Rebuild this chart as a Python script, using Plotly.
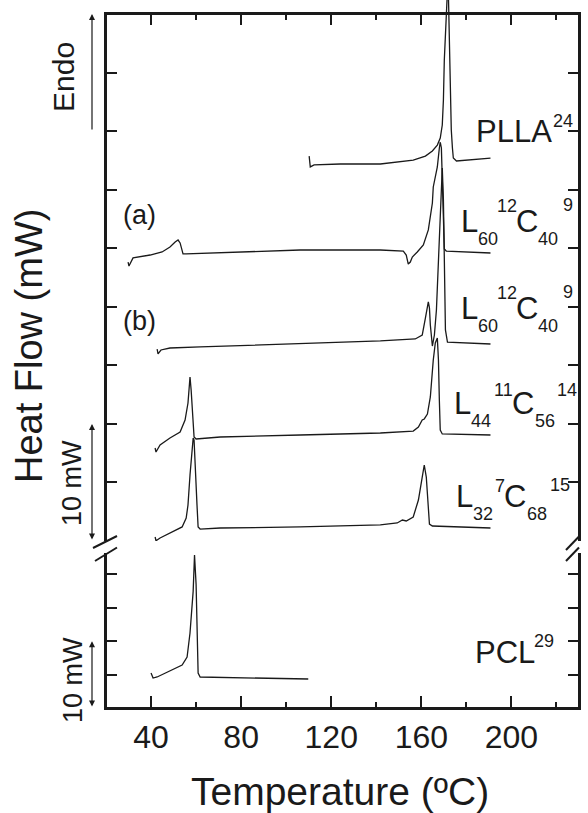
import plotly.graph_objects as go

FONT = "Liberation Sans, Arial, Helvetica, sans-serif"
INK = "#1a1a1a"

# ---- DSC heating scans: temperature (°C) vs. vertically offset heat flow (mW) ----
# upper panel (0-45 mW scale)
PLLA_T = [110.2, 110.7, 112.4, 124.0, 141.8, 156.4, 161.8, 164.9, 167.1, 168.4, 169.3,
          169.8, 170.2, 170.7, 171.1, 171.6, 172.0, 172.4, 172.9, 173.3, 173.8, 174.2,
          175.6, 190.7]
PLLA_HF = [32.87, 31.94, 32.11, 32.19, 32.19, 32.53, 32.87, 33.30, 33.81, 34.41, 35.52,
           37.66, 41.07, 43.63, 45.77, 47.05, 46.88, 42.78, 37.66, 35.10, 33.56, 32.70,
           32.45, 32.70]

A_T = [29.8, 30.2, 32.0, 39.6, 44.9, 48.4, 50.7, 52.0, 52.9, 54.2, 55.6, 84.0, 106.2,
       141.8, 152.0, 153.3, 154.2, 155.1, 156.0, 158.2, 160.9, 163.1, 164.9, 165.3,
       167.1, 168.0, 168.4, 168.9, 169.3, 169.8, 170.2, 171.1, 190.7]
A_HF = [23.82, 23.48, 24.17, 24.42, 24.68, 25.10, 25.53, 25.70, 25.45, 24.51, 24.51,
        24.68, 24.85, 24.85, 24.76, 24.42, 23.65, 23.82, 24.25, 24.68, 25.28, 26.56,
        28.86, 30.23, 31.94, 33.56, 34.07, 33.56, 31.25, 26.56, 24.93, 24.76, 24.59]

B_T = [42.7, 43.1, 44.4, 48.4, 61.8, 106.2, 141.8, 157.3, 160.4, 161.8, 162.7, 163.1,
       163.6, 164.0, 164.9, 165.8, 166.7, 167.6, 168.4, 168.9, 169.3, 169.8, 170.2,
       170.7, 171.6, 190.7]
B_HF = [16.39, 15.97, 16.31, 16.48, 16.57, 16.82, 17.08, 17.25, 17.59, 19.04, 20.15,
        20.41, 19.90, 18.44, 16.65, 17.59, 19.73, 23.99, 29.12, 31.25, 31.85, 29.12,
        23.14, 18.02, 16.99, 16.82]

L44_T = [41.8, 42.2, 44.0, 48.4, 52.9, 55.1, 56.4, 56.9, 57.3, 57.8, 58.7, 59.1, 60.0,
         70.7, 106.2, 141.8, 156.4, 158.7, 160.4, 161.3, 162.7, 164.0, 165.3, 166.2,
         167.1, 167.6, 168.0, 168.4, 169.3, 190.7]
L44_HF = [7.94, 7.60, 8.20, 8.80, 9.31, 10.33, 11.78, 13.15, 14.00, 12.89, 10.33, 8.88,
          8.71, 8.88, 9.05, 9.22, 9.39, 9.73, 10.33, 10.42, 10.84, 12.30, 15.46, 16.91,
          17.33, 15.46, 12.04, 9.48, 9.14, 9.05]

L32_T = [41.8, 42.2, 44.0, 48.4, 53.8, 55.6, 56.4, 57.3, 58.2, 58.7, 59.1, 59.6, 60.4,
         60.9, 61.8, 70.7, 106.2, 141.8, 149.3, 151.6, 153.3, 156.4, 158.7, 160.4, 161.3,
         162.2, 163.1, 163.6, 164.9, 190.7]
L32_HF = [0.34, 0.02, 0.26, 0.68, 1.20, 1.96, 3.07, 5.64, 7.94, 8.80, 8.62, 6.92, 3.07,
          1.20, 1.02, 1.11, 1.20, 1.37, 1.54, 1.79, 1.71, 2.05, 3.50, 5.46, 6.49, 5.46,
          2.90, 1.45, 1.28, 1.11]

# lower panel (0-25 mW scale)
PCL_T = [40.0, 40.9, 42.7, 48.4, 53.8, 56.0, 57.3, 58.7, 59.3, 60.0, 60.5, 60.9, 61.8,
         106.2, 109.8]
PCL_HF = [5.24, 4.49, 4.64, 5.54, 6.44, 7.63, 11.23, 17.5, 22.90, 18.5, 11.0, 5.24,
          4.64, 4.34, 4.34]

# axis ticks
X_RANGE = [20, 230]
X_MAJOR = [40, 80, 120, 160, 200]
X_MINOR = [60, 100, 140, 180, 220]
UPPER_RANGE = [0, 45]
UPPER_TICKS = [5, 10, 15, 20, 25, 30, 35, 40]
LOWER_RANGE = [0, 25]
LOWER_TICKS = [5, 10, 15, 20]

# sample labels: (text, font size, left px, centre px)
LABELS = [
    ("PLLA", 31, 474, 131), ("24", 18, 551, 121),
    ("L", 31, 459, 221.5), ("60", 18, 476, 239), ("12", 18, 495, 205.5),
    ("C", 31, 514, 221.5), ("40", 18, 536, 239), ("9", 18, 561, 205),
    ("L", 31, 459, 308.5), ("60", 18, 476, 326), ("12", 18, 495, 292.5),
    ("C", 31, 514, 308.5), ("40", 18, 536, 326), ("9", 18, 561, 292),
    ("L", 31, 452, 403.5), ("44", 18, 469, 421), ("11", 18, 492, 390),
    ("C", 31, 510, 403.5), ("56", 18, 533, 421), ("14", 18, 555, 390),
    ("L", 31, 454, 496.5), ("32", 18, 471, 514), ("7", 18, 493, 486),
    ("C", 31, 502, 496.5), ("68", 18, 525, 514), ("15", 18, 548, 485),
    ("PCL", 31, 473, 652.5), ("29", 18, 532, 641),
]

# ---- page geometry ----
W, H = 588, 813
ML, MR, MT, MB = 106, 9, 0, 105
PW, PH = W - ML - MR, H - MT - MB
FRAME_TOP, BREAK, GAP_END = 14, 541, 553
FRAME_L, FRAME_R, FRAME_B = ML, W - MR, MT + PH


def px_x(px):
    return (px - ML) / PW


def px_y(py):
    return (PH + MT - py) / PH


Y_BREAK = px_y(BREAK)
Y_TOP = px_y(FRAME_TOP)
# the overflow axis shares the upper scale but reaches the page top
OVER_RANGE = [0, UPPER_RANGE[1] * (BREAK - MT) / (BREAK - FRAME_TOP)]

fig = go.Figure()
LINE = dict(color=INK, width=1.3)
fig.add_trace(go.Scatter(x=PCL_T, y=PCL_HF, xaxis="x", yaxis="y", mode="lines", line=LINE))
for tx, hf in [(L32_T, L32_HF), (L44_T, L44_HF), (B_T, B_HF), (A_T, A_HF)]:
    fig.add_trace(go.Scatter(x=tx, y=hf, xaxis="x", yaxis="y2", mode="lines", line=LINE))
fig.add_trace(go.Scatter(x=PLLA_T, y=PLLA_HF, xaxis="x", yaxis="y3", mode="lines", line=LINE))
# empty trace so the top (tick-only) axis gets its own subplot
fig.add_trace(go.Scatter(x=[], y=[], xaxis="x2", yaxis="y2", mode="lines"))

axis_line = dict(showline=True, linecolor=INK, linewidth=2, ticks="inside",
                 tickcolor=INK, tickwidth=2, showgrid=False, zeroline=False)
minor = dict(tickvals=X_MINOR, ticks="inside", ticklen=6, tickwidth=2, tickcolor=INK)

fig.update_layout(
    width=W, height=H,
    margin=dict(l=ML, r=MR, t=MT, b=MB, pad=0),
    paper_bgcolor="white", plot_bgcolor="rgba(0,0,0,0)",
    showlegend=False,
    font=dict(family=FONT, color=INK),
    xaxis=dict(range=X_RANGE, anchor="y", tickvals=X_MAJOR, ticklen=12,
               tickfont=dict(size=32, color=INK), minor=minor, **axis_line),
    xaxis2=dict(range=X_RANGE, matches="x", anchor="y2", side="top",
                tickvals=X_MAJOR, ticklen=11, showticklabels=False, minor=minor,
                **axis_line),
    yaxis=dict(range=LOWER_RANGE, domain=[0, Y_BREAK], anchor="x", tickvals=LOWER_TICKS,
               ticklen=11, showticklabels=False, mirror="ticks", **axis_line),
    yaxis2=dict(range=UPPER_RANGE, domain=[Y_BREAK, Y_TOP], anchor="x",
                tickvals=UPPER_TICKS, ticklen=11, showticklabels=False, mirror="ticks",
                **axis_line),
    yaxis3=dict(range=OVER_RANGE, domain=[Y_BREAK, 1], anchor="x", visible=False),
)

ann = []
# axis titles
ann.append(dict(text="Temperature (ºC)", x=px_x(340), y=px_y(792), xref="paper",
                yref="paper", showarrow=False, font=dict(size=39),
                xanchor="center", yanchor="middle"))
ann.append(dict(text="Heat Flow (mW)", x=px_x(29), y=px_y(346), xref="paper",
                yref="paper", showarrow=False, font=dict(size=38), textangle=-90,
                xanchor="center", yanchor="middle"))
# panel tags
for tag, cy in [("(a)", 215), ("(b)", 321)]:
    ann.append(dict(text=tag, x=px_x(121), y=px_y(cy), xref="paper", yref="paper",
                    showarrow=False, font=dict(size=27), xanchor="left",
                    yanchor="middle"))
# scale bars and direction arrow
ARROW_X = px_x(92)
ann.append(dict(text="", x=ARROW_X, y=10, xref="paper", yref="y2", ax=0, ay=0,
                axref="pixel", ayref="y2", showarrow=True, arrowside="end+start",
                arrowhead=2, startarrowhead=2, arrowsize=1, startarrowsize=1,
                arrowwidth=1.2, arrowcolor=INK))
ann.append(dict(text="", x=ARROW_X, y=10, xref="paper", yref="y", ax=0, ay=0,
                axref="pixel", ayref="y", showarrow=True, arrowside="end+start",
                arrowhead=2, startarrowhead=2, arrowsize=1, startarrowsize=1,
                arrowwidth=1.2, arrowcolor=INK))
ann.append(dict(text="", x=ARROW_X, y=45, xref="paper", yref="y2", ax=0, ay=35,
                axref="pixel", ayref="y2", showarrow=True, arrowhead=2, arrowsize=1,
                arrowwidth=1.2, arrowcolor=INK))
for txt, cx, cy, size in [("10 mW", 72, 483, 27), ("10 mW", 73, 680, 27),
                          ("Endo", 64, 77, 30)]:
    ann.append(dict(text=txt, x=px_x(cx), y=px_y(cy), xref="paper", yref="paper",
                    showarrow=False, font=dict(size=size), textangle=-90,
                    xanchor="center", yanchor="middle"))
# sample labels
for txt, size, lx, cy in LABELS:
    ann.append(dict(text=txt, x=px_x(lx), y=px_y(cy), xref="paper", yref="paper",
                    showarrow=False, font=dict(size=size), xanchor="left",
                    yanchor="middle"))
fig.update_layout(annotations=ann)

# frame (drawn again on top) with an opening at the axis break, plus the slashes
shapes = []
for x0, x1 in [(100, 113), (572, 586)]:
    shapes.append(dict(type="rect", xref="paper", yref="paper", x0=px_x(x0), x1=px_x(x1),
                       y0=px_y(GAP_END), y1=px_y(BREAK), fillcolor="white",
                       line=dict(width=0), layer="above"))
frame = [
    (FRAME_L, FRAME_TOP, FRAME_R, FRAME_TOP),
    (FRAME_L, FRAME_B, FRAME_R, FRAME_B),
    (FRAME_L, FRAME_TOP, FRAME_L, BREAK),
    (FRAME_L, GAP_END, FRAME_L, FRAME_B),
    (FRAME_R, FRAME_TOP, FRAME_R, BREAK),
    (FRAME_R, GAP_END, FRAME_R, FRAME_B),
]
slashes = [(93, 548, 117, 536), (95, 561, 117, 547.5),
           (566, 550, 579, 536.5), (566, 561, 579, 547.5)]
for (x0, y0, x1, y1) in frame + slashes:
    shapes.append(dict(type="line", xref="paper", yref="paper", x0=px_x(x0), y0=px_y(y0),
                       x1=px_x(x1), y1=px_y(y1), line=dict(color=INK, width=2),
                       layer="above"))
fig.update_layout(shapes=shapes)

fig.write_html("out.html")
